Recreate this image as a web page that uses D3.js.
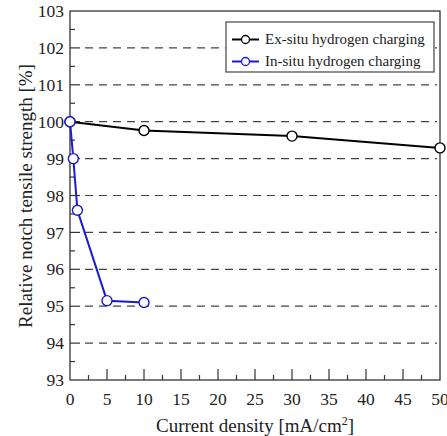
<!DOCTYPE html>
<html><head><meta charset="utf-8">
<script src="https://cdn.jsdelivr.net/npm/d3@7/dist/d3.min.js"></script>
<style>body{margin:0;background:#fff}</style>
</head><body>
<svg id="c" width="447" height="436"></svg>
<script>
const exX = [0, 10, 30, 50];
const exY = [100, 99.76, 99.61, 99.29];
const inX = [0, 0.45, 1, 5, 10];
const inY = [100, 99, 97.6, 95.15, 95.1];
const xTicks = [0,5,10,15,20,25,30,35,40,45,50];
const yTicks = [93,94,95,96,97,98,99,100,101,102,103];
const gridY = [94,95,96,97,98,99,100,101,102];
const seriesNames = ["Ex-situ hydrogen charging", "In-situ hydrogen charging"];
const colors = ["#000000", "#1a1ad2"];

const svg = d3.select("#c");
const L=70, R=440, T=11, B=380;
const x = d3.scaleLinear().domain([0,50]).range([L,R]);
const y = d3.scaleLinear().domain([93,103]).range([B,T]);
const font = "'Liberation Serif','Times New Roman',serif";

// gridlines
svg.append("g").selectAll("line").data(gridY).join("line")
  .attr("x1", L+15).attr("x2", R-3)
  .attr("y1", d=>y(d)).attr("y2", d=>y(d))
  .attr("stroke","#444").attr("stroke-width",1.2).attr("stroke-dasharray","8,6");

// frame
svg.append("rect").attr("x",L).attr("y",T).attr("width",R-L).attr("height",B-T)
  .attr("fill","none").attr("stroke","#333").attr("stroke-width",1.3);

// y ticks inward
const yMinor = d3.range(93.5,103,1);
svg.append("g").selectAll("line").data(yTicks.slice(1,-1)).join("line")
  .attr("x1",L).attr("x2",L+10).attr("y1",d=>y(d)).attr("y2",d=>y(d))
  .attr("stroke","#333").attr("stroke-width",1.2);
svg.append("g").selectAll("line").data(yMinor).join("line")
  .attr("x1",L).attr("x2",L+5).attr("y1",d=>y(d)).attr("y2",d=>y(d))
  .attr("stroke","#333").attr("stroke-width",1.2);
// x ticks inward
const xMinor = d3.range(2.5,50,5);
svg.append("g").selectAll("line").data(xTicks.slice(1,-1)).join("line")
  .attr("x1",d=>x(d)).attr("x2",d=>x(d)).attr("y1",B).attr("y2",B-11)
  .attr("stroke","#333").attr("stroke-width",1.2);
svg.append("g").selectAll("line").data(xMinor).join("line")
  .attr("x1",d=>x(d)).attr("x2",d=>x(d)).attr("y1",B).attr("y2",B-5)
  .attr("stroke","#333").attr("stroke-width",1.2);

// tick labels
svg.append("g").selectAll("text").data(yTicks).join("text")
  .attr("x",L-6).attr("y",d=>y(d)).attr("dy","0.35em").attr("text-anchor","end")
  .attr("font-family",font).attr("font-size",17.5).attr("fill","#222").text(d=>d);
svg.append("g").selectAll("text").data(xTicks).join("text")
  .attr("x",d=>x(d)).attr("y",B+25).attr("text-anchor","middle")
  .attr("font-family",font).attr("font-size",17.5).attr("fill","#222").text(d=>d);

// axis titles
const xt = svg.append("text").attr("x",255).attr("y",432).attr("text-anchor","middle")
  .attr("font-family",font).attr("font-size",19).attr("fill","#222");
xt.append("tspan").text("Current density [mA/cm");
xt.append("tspan").attr("font-size",12).attr("dy",-7).text("2");
xt.append("tspan").attr("dy",7).text("]");
svg.append("text").attr("transform","translate(25,196) rotate(-90)").attr("text-anchor","middle")
  .attr("dy","0.35em")
  .attr("font-family",font).attr("font-size",19).attr("fill","#222")
  .text("Relative notch tensile strength [%]");

// series
const series = [
  {xs: exX, ys: exY, c: colors[0]},
  {xs: inX, ys: inY, c: colors[1]}
];
const line = d3.line().x(d=>x(d[0])).y(d=>y(d[1]));
series.forEach(s=>{
  const pts = s.xs.map((v,i)=>[v,s.ys[i]]);
  svg.append("path").datum(pts).attr("d",line).attr("fill","none")
    .attr("stroke",s.c).attr("stroke-width",2);
});
series.forEach(s=>{
  const pts = s.xs.map((v,i)=>[v,s.ys[i]]);
  svg.append("g").selectAll("circle").data(pts).join("circle")
    .attr("cx",d=>x(d[0])).attr("cy",d=>y(d[1])).attr("r",5)
    .attr("fill","#fff").attr("stroke",s.c).attr("stroke-width",1.4);
});

// legend
const lg = svg.append("g");
lg.append("rect").attr("x",226).attr("y",22).attr("width",208).attr("height",50)
  .attr("fill","#fff").attr("stroke","#444").attr("stroke-width",1.2);
seriesNames.forEach((n,i)=>{
  const yy = 39.5 + i*22;
  lg.append("line").attr("x1",232).attr("x2",259).attr("y1",yy).attr("y2",yy)
    .attr("stroke",colors[i]).attr("stroke-width",2);
  lg.append("circle").attr("cx",245.5).attr("cy",yy).attr("r",4)
    .attr("fill","#fff").attr("stroke",colors[i]).attr("stroke-width",1.3);
  lg.append("text").attr("x",265).attr("y",yy).attr("dy","0.33em")
    .attr("font-family",font).attr("font-size",15).attr("fill","#222").text(n);
});
</script>
</body></html>
